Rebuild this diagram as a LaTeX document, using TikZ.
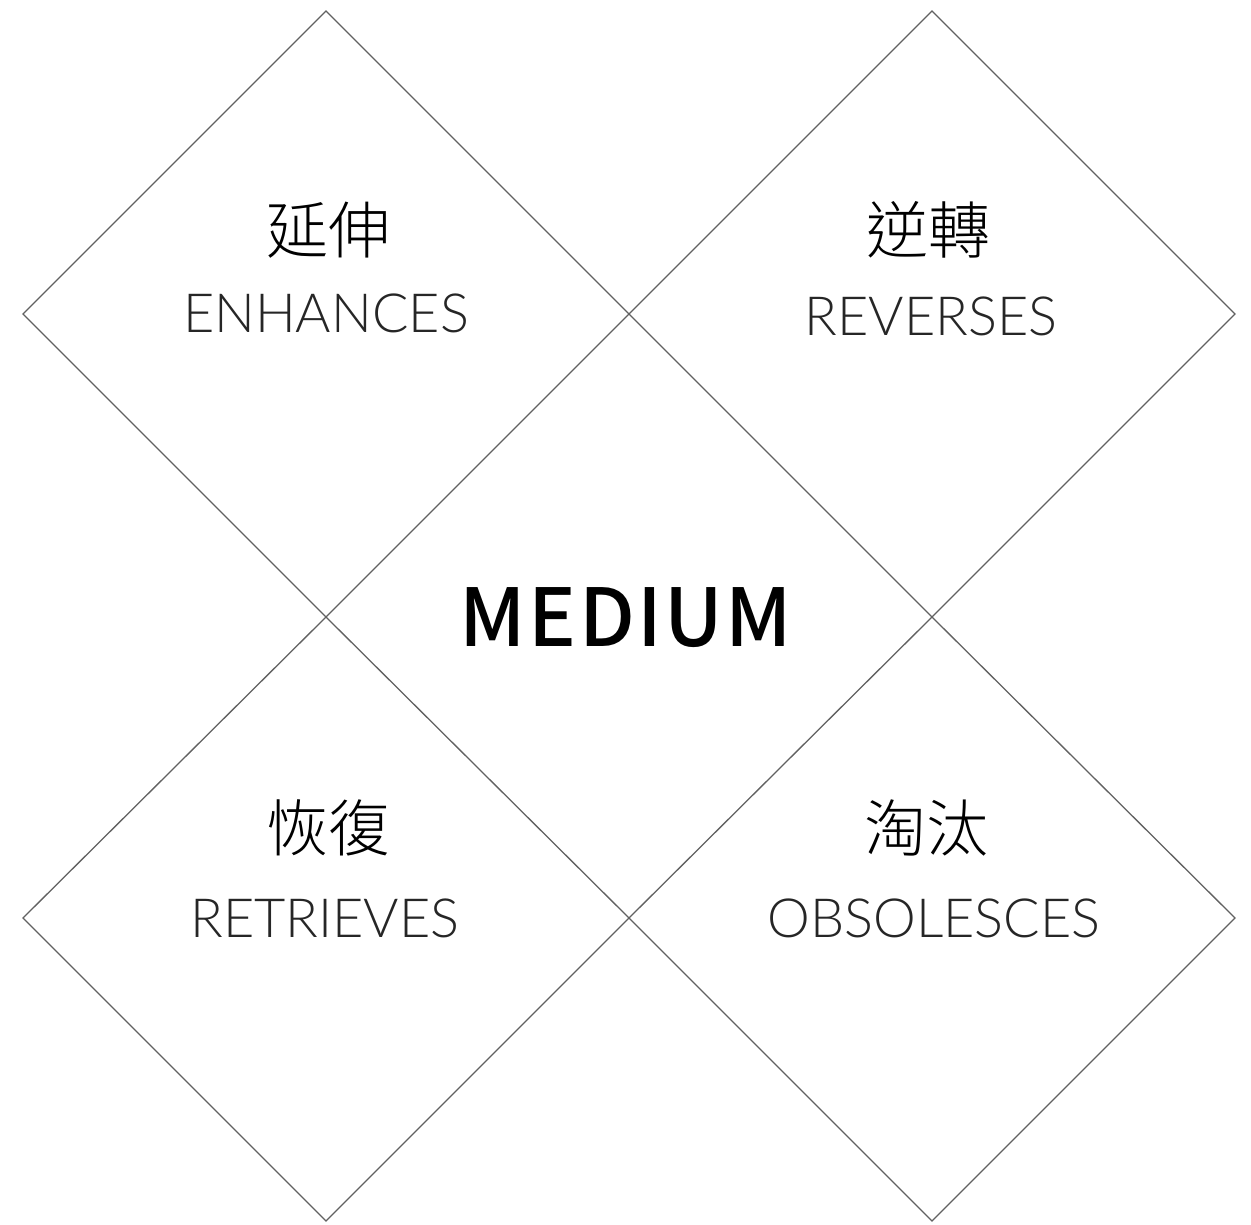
\documentclass[tikz,border=0pt]{standalone}
\usepackage{fontspec}
\newfontfamily\cjkfont{Noto Sans CJK TC}[UprightFont=* Light, BoldFont=* Medium]
\newfontfamily\midfont{Noto Sans CJK TC}[UprightFont=* Medium, LetterSpace=3]
\newfontfamily\thinfont{Lato}[UprightFont=* Light]
\usepackage{tikz}

\tikzset{
  quad/.style={draw=black!62, line width=1.3pt},
  zhlabel/.style={font=\cjkfont\fontsize{62}{66}\selectfont},
  enlabel/.style={font=\thinfont\fontsize{54}{58}\selectfont, text=black!85},
  midlabel/.style={font=\midfont\fontsize{80}{84}\selectfont}
}

\begin{document}
\begin{tikzpicture}[x=1pt,y=-1pt]
        \useasboundingbox (0,0) rectangle (1251,1225);

        \draw[quad] (23,314) -- (326,11) -- (629,314) -- (326,617) -- cycle;
        \draw[quad] (629,314) -- (932,11) -- (1235,314) -- (932,617) -- cycle;
        \draw[quad] (23,918) -- (326,617) -- (629,918) -- (326,1221) -- cycle;
        \draw[quad] (629,918) -- (932,617) -- (1235,918) -- (932,1221) -- cycle;

        \node[zhlabel] (enhzh) at (328,230) {延伸};
        \node[enlabel] (enhen) at (326,313) {ENHANCES};
        \node[zhlabel] (revzh) at (928,230) {逆轉};
        \node[enlabel] (reven) at (931,316) {REVERSES};
        \node[zhlabel] (retzh) at (328,828) {恢復};
        \node[enlabel] (reten) at (325,918) {RETRIEVES};
        \node[zhlabel] (obszh) at (926,828) {淘汰};
        \node[enlabel] (obsen) at (934,918) {OBSOLESCES};

        \node[midlabel] (medium) at (626,618) {MEDIUM};

\end{tikzpicture}
\end{document}
